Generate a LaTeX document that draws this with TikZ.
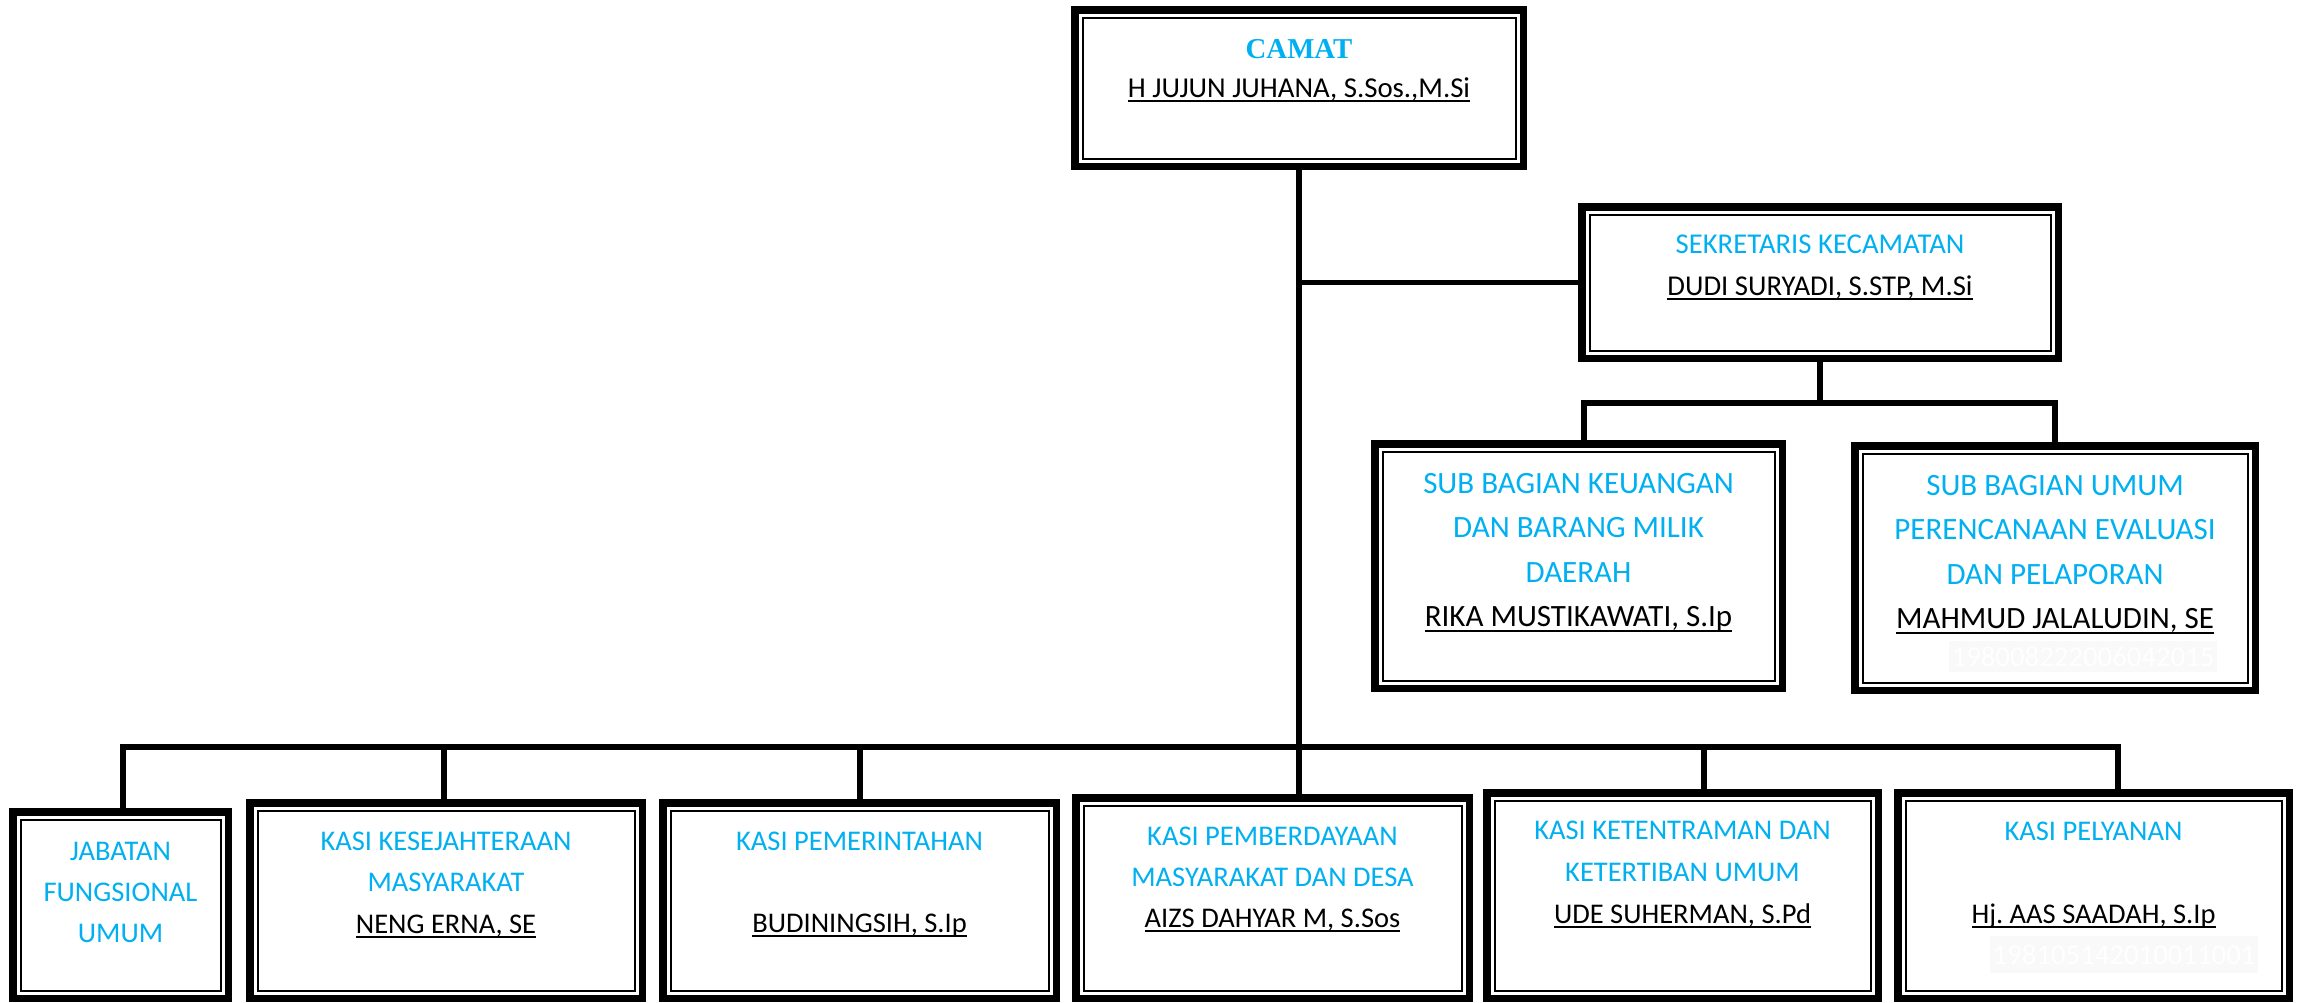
\documentclass[tikz,border=0pt]{standalone}
\usepackage{fontspec}
\setmainfont{Carlito}
\newfontfamily\timesbf{Liberation Serif}[BoldFont={* Bold}]
\definecolor{wcyan}{HTML}{00B0F0}
\frenchspacing
\newcommand\cy[1]{\textcolor{wcyan}{#1}}
\newcommand\nameul[1]{\setbox0=\hbox{#1}\rlap{\rule[-5.3pt]{\wd0}{2.2pt}}\box0}
\tikzset{
  orgbox/.style={draw, line width=7.5pt, inner sep=0pt, outer sep=0pt, fill=white,
    path picture={\draw[line width=2pt]
      ([xshift=7.75pt,yshift=-7.75pt]path picture bounding box.north west) rectangle
      ([xshift=-7.75pt,yshift=7.75pt]path picture bounding box.south east);}},
  conn/.style={line width=5.5pt, line join=miter},
  txt/.style={anchor=base, inner sep=0pt},
  ghost/.style={fill=black!2.5, text=white, inner sep=0pt, font=\fontsize{28.8}{30}\selectfont}
}
\begin{document}
\begin{tikzpicture}[x=1pt,y=-1pt]
\useasboundingbox[fill=white] (0,0) rectangle (2300,1002);
\renewcommand\arraystretch{1}
\setlength\tabcolsep{0pt}
% boxes
\node[orgbox, minimum width=448.5pt, minimum height=156.5pt] (camat) at (1299,88) {};
\node[orgbox, minimum width=476.5pt, minimum height=151.5pt] (sek) at (1820,282.5) {};
\node[orgbox, minimum width=407.5pt, minimum height=244.5pt] (keu) at (1578.5,566) {};
\node[orgbox, minimum width=400.5pt, minimum height=244.5pt] (umum) at (2055,568) {};
\node[orgbox, minimum width=215.5pt, minimum height=186.5pt] (jab) at (120.5,905) {};
\node[orgbox, minimum width=392.5pt, minimum height=195.5pt] (k1) at (446,900.5) {};
\node[orgbox, minimum width=393.5pt, minimum height=195.5pt] (k2) at (859.5,900.5) {};
\node[orgbox, minimum width=393.5pt, minimum height=200.5pt] (k3) at (1272.5,898) {};
\node[orgbox, minimum width=391.5pt, minimum height=205.5pt] (k4) at (1682.5,895.5) {};
\node[orgbox, minimum width=391.5pt, minimum height=205.5pt] (k5) at (2093.5,895.5) {};
% texts
\node[txt, font=\fontsize{28.8}{39}\selectfont] (tcamat) at (1299,58)
  {\begin{tabular}[t]{c}\timesbf\bfseries\cy{CAMAT}\\\nameul{H JUJUN JUHANA, S.Sos.,M.Si}\end{tabular}};
\node[txt, font=\fontsize{28.7}{42}\selectfont] (tsek) at (1820,253)
  {\begin{tabular}[t]{c}\cy{SEKRETARIS KECAMATAN}\\\nameul{DUDI SURYADI, S.STP, M.Si}\end{tabular}};
\node[txt, font=\fontsize{31}{44.5}\selectfont] (tkeu) at (1578.5,493)
  {\begin{tabular}[t]{c}\cy{SUB BAGIAN KEUANGAN}\\\cy{DAN BARANG MILIK}\\\cy{DAERAH}\\\nameul{RIKA MUSTIKAWATI, S.Ip}\end{tabular}};
\node[txt, font=\fontsize{31}{44.5}\selectfont] (tumum) at (2055,495)
  {\begin{tabular}[t]{c}\cy{SUB BAGIAN UMUM}\\\cy{PERENCANAAN EVALUASI}\\\cy{DAN PELAPORAN}\\\nameul{MAHMUD JALALUDIN, SE}\end{tabular}};
\node[txt, font=\fontsize{28.5}{41}\selectfont] (tjab) at (120.5,860)
  {\begin{tabular}[t]{c}\cy{JABATAN}\\\cy{FUNGSIONAL}\\\cy{UMUM}\end{tabular}};
\node[txt, font=\fontsize{28.5}{41.5}\selectfont] (tk1) at (446,850)
  {\begin{tabular}[t]{c}\cy{KASI KESEJAHTERAAN}\\\cy{MASYARAKAT}\\\nameul{NENG ERNA, SE}\end{tabular}};
\node[txt, font=\fontsize{28.5}{41}\selectfont] (tk2) at (859.5,850)
  {\begin{tabular}[t]{c}\cy{KASI PEMERINTAHAN}\\ \\\nameul{BUDININGSIH, S.Ip}\end{tabular}};
\node[txt, font=\fontsize{28.5}{41}\selectfont] (tk3) at (1272.5,845)
  {\begin{tabular}[t]{c}\cy{KASI PEMBERDAYAAN}\\\cy{MASYARAKAT DAN DESA}\\\nameul{AIZS DAHYAR M, S.Sos}\end{tabular}};
\node[txt, font=\fontsize{28.5}{42}\selectfont] (tk4) at (1682.5,839)
  {\begin{tabular}[t]{c}\cy{KASI KETENTRAMAN DAN}\\\cy{KETERTIBAN UMUM}\\\nameul{UDE SUHERMAN, S.Pd}\end{tabular}};
\node[txt, font=\fontsize{28.5}{41.5}\selectfont] (tk5) at (2093.5,840)
  {\begin{tabular}[t]{c}\cy{KASI PELYANAN}\\ \\\nameul{Hj. AAS SAADAH, S.Ip}\end{tabular}};
% faint ghost numbers
\node[ghost, minimum width=268pt, minimum height=31pt] (g1) at (2083,656.5) {198008222006042015};
\node[ghost, minimum width=268pt, minimum height=37pt] (g2) at (2124,954.5) {198105142010011001};
% connectors
\coordinate (sb1) at (1584,403);
\coordinate (sb2) at (2055,403);
\coordinate (b0) at (123,747);
\coordinate (b1) at (444,747);
\coordinate (b2) at (860,747);
\coordinate (b4) at (1704,747);
\coordinate (b5) at (2118,747);
\draw[conn] (camat.south) -- (camat.south |- k3.north);
\draw[conn] (sek.west) -- (sek.west -| camat.south);
\draw[conn] (sek.south) -- (sek.south |- sb1);
\draw[conn] (sb1 |- keu.north) -- (sb1) -- (sb2) -- (sb2 |- umum.north);
\draw[conn] (b0 |- jab.north) -- (b0) -- (b5) -- (b5 |- k5.north);
\draw[conn] (b1) -- (b1 |- k1.north);
\draw[conn] (b2) -- (b2 |- k2.north);
\draw[conn] (b4) -- (b4 |- k4.north);
\end{tikzpicture}
\end{document}
